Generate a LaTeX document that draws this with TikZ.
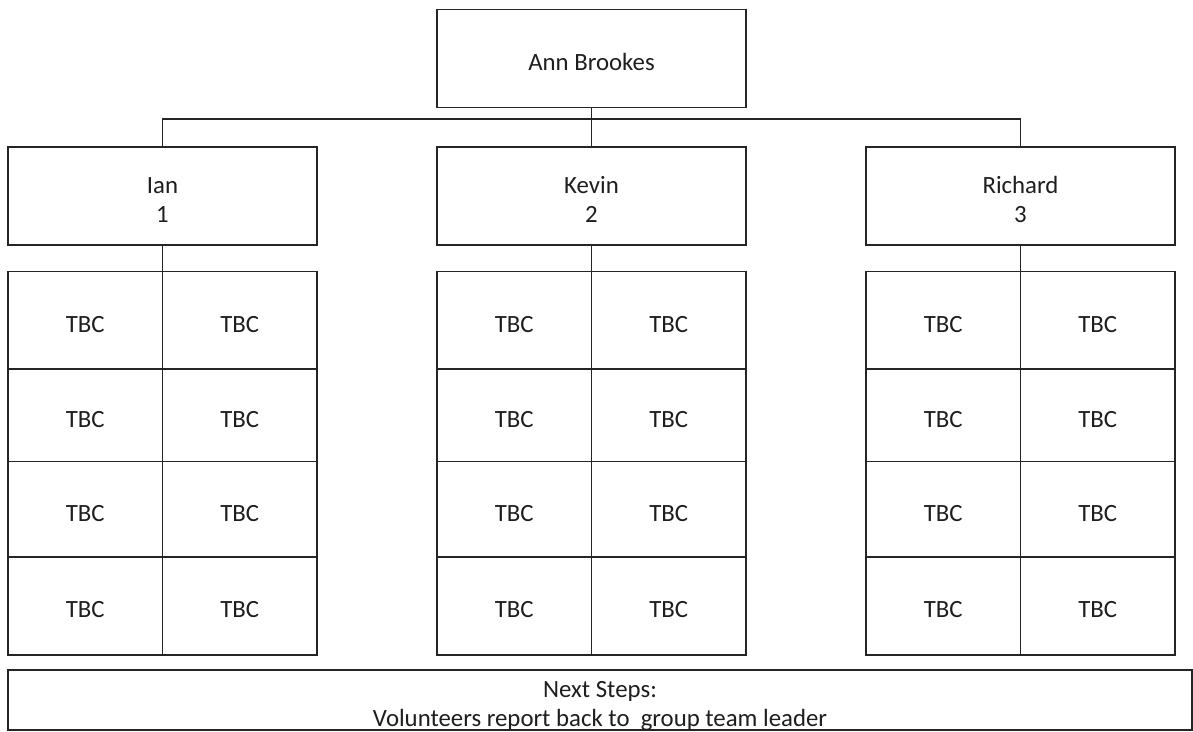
\documentclass[tikz,border=0pt]{standalone}
\usepackage{fontspec}
\setmainfont{Carlito}
\definecolor{linec}{HTML}{252525}
\definecolor{textc}{HTML}{1E1E1E}
\begin{document}
\begin{tikzpicture}[x=1pt,y=-1pt,
  box/.style={draw=linec, line width=1.8pt, rectangle, inner sep=0pt,
    font=\fontsize{24.8}{29.5}\selectfont, text=textc, align=center,
    text height=24pt},
  lead/.style={box, minimum width=309pt, minimum height=98pt},
  pair/.style={lead, text height=53.5pt},
  cell/.style={box, minimum width=154.5pt},
  conn/.style={draw=linec, line width=1.8pt}]
\useasboundingbox (0,0) rectangle (1193,731);
\fill[white] (0,0) rectangle (1193,731);

\node[lead] (ann) at (591.5,58.5) {Ann Brookes};
\node[pair] (ian) at (162.5,196) {Ian\\1};
\node[pair] (kevin) at (591.5,196) {Kevin\\2};
\node[pair] (richard) at (1020.5,196) {Richard\\3};

\coordinate (bus) at (591.5,119);
\draw[conn] (ann.south) -- (bus);
\draw[conn] (ian.north) |- (bus) -| (richard.north);
\draw[conn] (bus) -- (kevin.north);

\foreach \nm/\cx in {ian/162.5, kevin/591.5, richard/1020.5} {
  \foreach \r/\top/\bot in {1/271.5/369, 2/369/461.5, 3/461.5/557, 4/557/655} {
    \node[cell, minimum height={\bot-\top}] (\nm-\r-1) at ({\cx-77.25},{(\top+\bot)/2}) {TBC};
    \node[cell, minimum height={\bot-\top}] (\nm-\r-2) at ({\cx+77.25},{(\top+\bot)/2}) {TBC};
  }
  \draw[conn] (\nm.south) -- (\nm.south |- \nm-1-1.north);
}

\node[box, minimum width=1184pt, minimum height=60pt,
  font=\fontsize{24.8}{28.5}\selectfont, text height=56.5pt] (next) at (600,700)
  {Next Steps:\\Volunteers report back to\ \ group team leader};
\end{tikzpicture}
\end{document}
